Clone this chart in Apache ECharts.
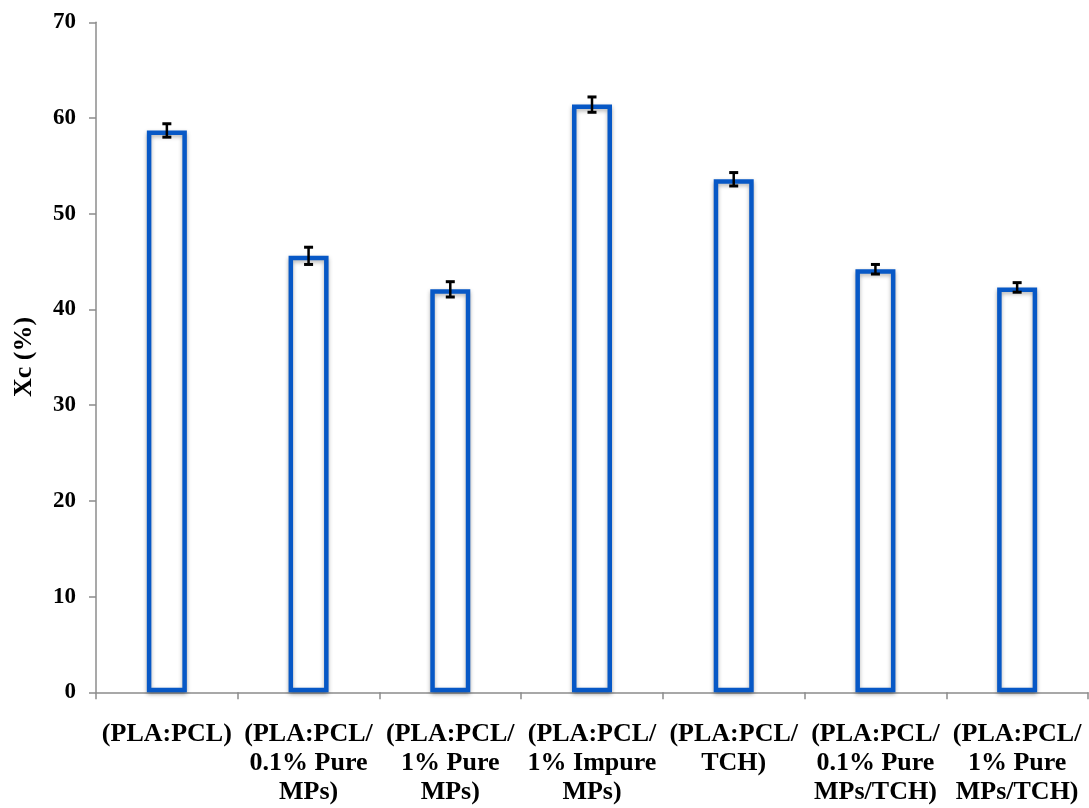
<!DOCTYPE html>
<html>
<head>
<meta charset="utf-8">
<script src="https://cdn.jsdelivr.net/npm/echarts@6/dist/echarts.min.js"></script>
<style>
html,body{margin:0;padding:0;background:#fff;}
#chart{width:1089px;height:808px;}
</style>
</head>
<body>
<div id="chart"></div>
<script>
var categories = [
  "(PLA:PCL)",
  "(PLA:PCL/\n0.1% Pure\nMPs)",
  "(PLA:PCL/\n1% Pure\nMPs)",
  "(PLA:PCL/\n1% Impure\nMPs)",
  "(PLA:PCL/\nTCH)",
  "(PLA:PCL/\n0.1% Pure\nMPs/TCH)",
  "(PLA:PCL/\n1% Pure\nMPs/TCH)"
];
var xcValues = [58.7, 45.6, 42.1, 61.4, 53.6, 44.2, 42.3];
var xcErrors = [0.7, 0.9, 0.8, 0.8, 0.7, 0.5, 0.5];
var yTicks = [0, 10, 20, 30, 40, 50, 60, 70];

var serif = "'Liberation Serif','Times New Roman',serif";
var chart = echarts.init(document.getElementById('chart'));
var errData = xcValues.map(function (v, i) { return [i, v - xcErrors[i], v + xcErrors[i]]; });

chart.setOption({
  animation: false,
  backgroundColor: '#ffffff',
  grid: { left: 96, right: 1, top: 22.3, bottom: 115.7, containLabel: false },
  xAxis: {
    type: 'category',
    data: categories,
    axisLine: { lineStyle: { color: '#8c8c8c', width: 1.5 } },
    axisTick: { show: true, length: 7, lineStyle: { color: '#8c8c8c', width: 1.5 } },
    axisLabel: {
      interval: 0,
      margin: 27,
      fontFamily: serif,
      fontWeight: 'bold',
      fontSize: 26,
      lineHeight: 29,
      color: '#000'
    }
  },
  yAxis: {
    type: 'value',
    min: yTicks[0],
    max: yTicks[yTicks.length - 1],
    interval: 10,
    splitLine: { show: false },
    axisLine: { show: true, lineStyle: { color: '#8c8c8c', width: 1.5 } },
    axisTick: { show: true, length: 7, lineStyle: { color: '#8c8c8c', width: 1.5 } },
    axisLabel: {
      margin: 20,
      fontFamily: serif,
      fontWeight: 'bold',
      fontSize: 23,
      color: '#000'
    }
  },
  graphic: [{
    type: 'text',
    x: 24,
    y: 357,
    rotation: Math.PI / 2,
    style: {
      text: 'Xc (%)',
      font: 'bold 26px ' + serif,
      fill: '#000',
      textAlign: 'center',
      textVerticalAlign: 'middle'
    }
  }],
  series: [
    {
      type: 'bar',
      data: xcValues,
      barWidth: 40,
      itemStyle: {
        color: '#ffffff',
        borderColor: '#0758c6',
        borderWidth: 4.5,
        shadowColor: 'rgba(0,0,0,0.3)',
        shadowBlur: 4,
        shadowOffsetY: 2
      },
      z: 2
    },
    {
      type: 'custom',
      data: errData,
      z: 5,
      renderItem: function (params, api) {
        var x = api.value(0);
        var lo = api.coord([x, api.value(1)]);
        var hi = api.coord([x, api.value(2)]);
        var hw = 4.5;
        return {
          type: 'group',
          children: [
            { type: 'line', shape: { x1: lo[0], y1: lo[1], x2: hi[0], y2: hi[1] }, style: { stroke: '#000', lineWidth: 2.5 } },
            { type: 'line', shape: { x1: lo[0] - hw, y1: lo[1], x2: lo[0] + hw, y2: lo[1] }, style: { stroke: '#000', lineWidth: 3 } },
            { type: 'line', shape: { x1: hi[0] - hw, y1: hi[1], x2: hi[0] + hw, y2: hi[1] }, style: { stroke: '#000', lineWidth: 3 } }
          ]
        };
      }
    }
  ]
});
</script>
</body>
</html>
